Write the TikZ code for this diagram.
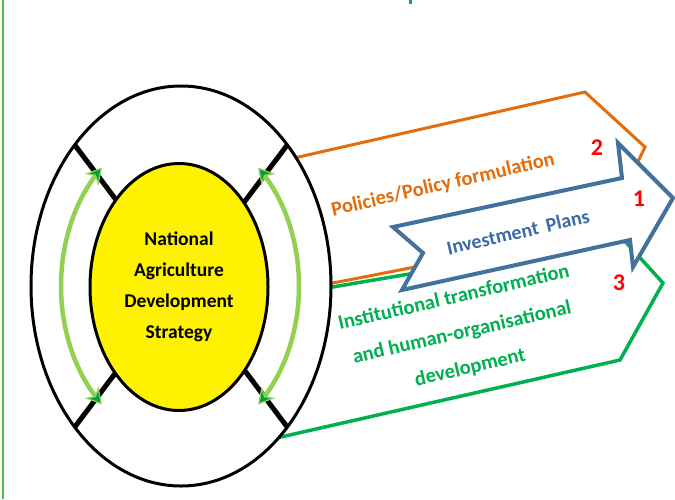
\documentclass[tikz,border=0pt]{standalone}
\usepackage{fontspec}
\setmainfont{Carlito}
\usetikzlibrary{shapes.geometric,arrows.meta}
\definecolor{orA}{HTML}{E46C0A}
\definecolor{blA}{HTML}{41719C}
\definecolor{blT}{HTML}{3B6BA5}
\definecolor{grA}{HTML}{00B050}
\definecolor{lgA}{HTML}{92D050}
\definecolor{dgA}{HTML}{00A040}
\definecolor{frameG}{HTML}{4CB84C}
\begin{document}
\begin{tikzpicture}[x=1pt,y=-1pt,
  band/.style={line width=3pt, fill=white, line join=miter},
  ring/.style={ellipse, draw=black, line width=3pt, fill=white, minimum width=300pt, minimum height=400pt, inner sep=0pt, outer sep=0pt},
  core/.style={ellipse, draw=black, line width=3pt, fill=yellow, minimum width=178pt, minimum height=247pt, inner sep=0pt, outer sep=0pt, align=center, font=\bfseries\fontsize{19.5}{31}\selectfont},
  spoke/.style={line width=5pt, black},
  loop/.style={draw=lgA, line width=4.5pt, {Stealth[length=16pt,width=18pt,fill=dgA,line width=1.2pt]}-{Stealth[length=16pt,width=18pt,fill=dgA,line width=1.2pt]}},
  lbl/.style={font=\bfseries\fontsize{20.5}{36}\selectfont, align=center, rotate=13},
  num/.style={text=red, font=\bfseries\fontsize{24}{24}\selectfont}
]
\useasboundingbox[fill=white] (0,0) rectangle (675,499);
\draw[frameG, line width=2.5pt] (3,0) -- (3,499);
\fill[grA] (409,0) rectangle (412,4);

% bands
\draw[band, draw=orA] (250,168) -- (585,92) -- (645,147) -- (605,230) -- (333,283) -- (250,299) -- cycle;
\draw[band, draw=grA, line width=3.5pt] (250,301) -- (622,238) -- (663,283) -- (620,360) -- (250,444) -- cycle;
\draw[band, draw=blA, line width=4pt] (393,227) -- (622,178) -- (618,143) -- (673,198) -- (633,267) -- (630,240) -- (402,290) -- (423,253) -- cycle;

% circle
\node[ring] (outer) at (181,286) {};
\draw[spoke] (outer.53) -- (outer.center);
\draw[spoke] (outer.127) -- (outer.center);
\draw[spoke] (outer.233) -- (outer.center);
\draw[spoke] (outer.307) -- (outer.center);
\node[core] (core) at (179,287) {National\\Agriculture\\Development\\Strategy};

% cycle arrows
\draw[loop] plot[domain=131:229, samples=60] ({180+119*cos(\x)},{286-157*sin(\x)});
\draw[loop] plot[domain=49:-49, samples=60] ({180+119*cos(\x)},{286-157*sin(\x)});

% labels
\node[lbl, text=orA] (pol) at (443,185) {Policies/Policy formulation};
\node[lbl, text=blT, font=\bfseries\fontsize{20}{24}\selectfont] (inv) at (518,232) {Investment\hspace{8pt}Plans};
\node[lbl, text=grA] (inst) at (462,333) {Institutional transformation\\and human-organisational\\development};
\node[num] (n2) at (597,148) {2};
\node[num] (n1) at (639,199) {1};
\node[num] (n3) at (619,283) {3};
\end{tikzpicture}
\end{document}
